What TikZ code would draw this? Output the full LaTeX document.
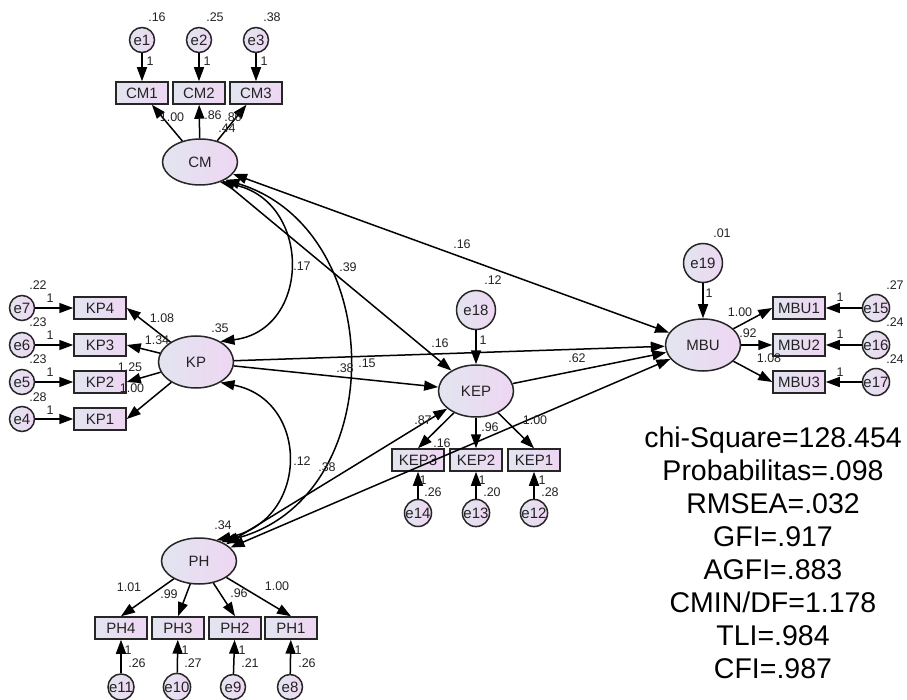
\documentclass[tikz,border=0pt]{standalone}
\usepackage{fontspec}
\setmainfont{Liberation Sans}
\usetikzlibrary{arrows.meta, shapes.geometric}

\definecolor{nodeL}{RGB}{226,229,240}
\definecolor{nodeR}{RGB}{238,214,242}
\definecolor{txt}{RGB}{35,35,35}

\tikzset{
  latent/.style={ellipse, draw=black!85, line width=1.5pt, left color=nodeL, right color=nodeR,
    minimum width=75pt, minimum height=52pt, inner sep=0pt, font=\fontsize{15}{16}\selectfont, text=txt},
  indic/.style={rectangle, draw=black!85, line width=1.5pt, left color=nodeL, right color=nodeR,
    minimum width=52pt, minimum height=22pt, inner sep=0pt, font=\fontsize{15}{16}\selectfont, text=txt},
  errc/.style={circle, draw=black!85, line width=1.5pt, left color=nodeL, right color=nodeR,
    minimum size=25pt, inner sep=0pt, font=\fontsize{15}{16}\selectfont, text=txt},
  errbig/.style={errc, minimum size=39pt},
  est/.style={font=\fontsize{12.5}{13}\selectfont, text=txt, inner sep=0pt},
  reg/.style={line width=1.5pt, -{Triangle[length=14pt,width=10pt]}},
  covar/.style={line width=1.5pt, {Triangle[length=14pt,width=10pt]}-{Triangle[length=14pt,width=10pt]}},
}

\begin{document}
\begin{tikzpicture}[x=1pt,y=-1pt]
\useasboundingbox (0,0) rectangle (907,700);

% CM
\node[errc] (e1) at (142,40) {e1};
\node[errc] (e2) at (199,40) {e2};
\node[errc] (e3) at (256,40) {e3};
\node[indic] (CM1) at (142,93) {CM1};
\node[indic] (CM2) at (199,93) {CM2};
\node[indic] (CM3) at (256,93) {CM3};
\node[latent, minimum height=46pt] (CM) at (200,162) {CM};

% KP
\node[errc] (e7) at (22,308) {e7};
\node[errc] (e6) at (22,345) {e6};
\node[errc] (e5) at (22,382) {e5};
\node[errc] (e4) at (22,419) {e4};
\node[indic] (KP4) at (100,308) {KP4};
\node[indic] (KP3) at (100,345) {KP3};
\node[indic] (KP2) at (100,382) {KP2};
\node[indic] (KP1) at (100,419) {KP1};
\node[latent] (KP) at (196,362) {KP};

% PH
\node[latent, minimum height=46pt] (PH) at (199,561) {PH};
\node[indic] (PH4) at (121,628) {PH4};
\node[indic] (PH3) at (178,628) {PH3};
\node[indic] (PH2) at (235,628) {PH2};
\node[indic] (PH1) at (291,628) {PH1};
\node[errc] (e11) at (121,687) {e11};
\node[errc] (e10) at (177,687) {e10};
\node[errc] (e9) at (233,687) {e9};
\node[errc] (e8) at (290,687) {e8};

% KEP
\node[errbig] (e18) at (476,310) {e18};
\node[latent] (KEP) at (476,391) {KEP};
\node[indic] (KEP3) at (418,460) {KEP3};
\node[indic] (KEP2) at (476,460) {KEP2};
\node[indic] (KEP1) at (534,460) {KEP1};
\node[errc] (e14) at (418,513) {e14};
\node[errc] (e13) at (476,513) {e13};
\node[errc] (e12) at (534,513) {e12};

% MBU
\node[errbig] (e19) at (703,263) {e19};
\node[latent] (MBU) at (703,345) {MBU};
\node[indic] (MBU1) at (799,308) {MBU1};
\node[indic] (MBU2) at (799,345) {MBU2};
\node[indic] (MBU3) at (799,382) {MBU3};
\node[errc] (e15) at (876,308) {e15};
\node[errc] (e16) at (876,345) {e16};
\node[errc] (e17) at (876,382) {e17};

% measurement paths
\draw[reg] (e1) -- (CM1);
\draw[reg] (e2) -- (CM2);
\draw[reg] (e3) -- (CM3);
\draw[reg] (CM) -- (CM1);
\draw[reg] (CM) -- (CM2);
\draw[reg] (CM) -- (CM3);

\draw[reg] (e7) -- (KP4);
\draw[reg] (e6) -- (KP3);
\draw[reg] (e5) -- (KP2);
\draw[reg] (e4) -- (KP1);
\draw[reg] (KP) -- (KP4.east);
\draw[reg] (KP) -- (KP3.east);
\draw[reg] (KP) -- (KP2.east);
\draw[reg] (KP) -- (KP1.east);

\draw[reg] (PH) -- (PH4.north);
\draw[reg] (PH) -- (PH3.north);
\draw[reg] (PH) -- (PH2.north);
\draw[reg] (PH) -- (PH1.north);
\draw[reg] (e11) -- (PH4);
\draw[reg] (e10) -- (PH3);
\draw[reg] (e9) -- (PH2);
\draw[reg] (e8) -- (PH1);

\draw[reg] (e18) -- (KEP);
\draw[reg] (KEP) -- (KEP3.north);
\draw[reg] (KEP) -- (KEP2);
\draw[reg] (KEP) -- (KEP1.north);
\draw[reg] (e14) -- (KEP3);
\draw[reg] (e13) -- (KEP2);
\draw[reg] (e12) -- (KEP1);

\draw[reg] (e19) -- (MBU);
\draw[reg] (MBU) -- (MBU1.west);
\draw[reg] (MBU) -- (MBU2.west);
\draw[reg] (MBU) -- (MBU3.west);
\draw[reg] (e15) -- (MBU1);
\draw[reg] (e16) -- (MBU2);
\draw[reg] (e17) -- (MBU3);

% structural paths
\draw[covar] (CM) -- (MBU);
\draw[reg] (CM) -- (KEP);
\draw[reg] (KP) -- (MBU);
\draw[reg] (KP) -- (KEP);
\draw[reg] (KEP) -- (MBU);
\draw[covar] (PH) -- (KEP);
\draw[covar] (PH) -- (MBU);
\draw[covar] (CM.-45) .. controls (312,200) and (312,330) .. (KP.40);
\draw[covar] (CM.-35) .. controls (390,230) and (390,500) .. (PH.40);
\draw[covar] (KP.-40) .. controls (310,400) and (310,520) .. (PH.50);

% estimates
\node[est] (v1) at (157,17) {.16};
\node[est] (v2) at (215,17) {.25};
\node[est] (v3) at (272,17) {.38};
\node[est] (f1) at (150,61) {1};
\node[est] (f2) at (207,61) {1};
\node[est] (f3) at (264,61) {1};
\node[est] (l1) at (172,117) {1.00};
\node[est] (l2) at (213,115) {.86};
\node[est] (l3) at (233,117) {.86};
\node[est] (vcm) at (227,128) {.44};

\node[est] (v7) at (38,285) {.22};
\node[est] (v6) at (38,322) {.23};
\node[est] (v5) at (38,359) {.23};
\node[est] (v4) at (38,397) {.28};
\node[est] (f7) at (50,298) {1};
\node[est] (f6) at (50,335) {1};
\node[est] (f5) at (50,372) {1};
\node[est] (f4) at (50,410) {1};
\node[est] (l4) at (162,318) {1.08};
\node[est] (l5) at (157,340) {1.34};
\node[est] (l6) at (130,367) {1.25};
\node[est] (l7) at (132,388) {1.00};
\node[est] (vkp) at (220,328) {.35};

\node[est] (vph) at (223,525) {.34};
\node[est] (l8) at (129,587) {1.01};
\node[est] (l9) at (169,594) {.99};
\node[est] (l10) at (239,593) {.96};
\node[est] (l11) at (277,586) {1.00};
\node[est] (f11) at (128,650) {1};
\node[est] (f10) at (185,650) {1};
\node[est] (f9) at (242,650) {1};
\node[est] (f8) at (298,650) {1};
\node[est] (v11) at (137,663) {.26};
\node[est] (v10) at (193,663) {.27};
\node[est] (v9) at (250,663) {.21};
\node[est] (v8) at (307,663) {.26};

\node[est] (v18) at (493,280) {.12};
\node[est] (f18) at (483,340) {1};
\node[est] (l12) at (442,443) {.16};
\node[est] (l13) at (490,427) {.96};
\node[est] (l14) at (535,420) {1.00};
\node[est] (f14) at (423,480) {1};
\node[est] (f13) at (482,480) {1};
\node[est] (f12) at (542,480) {1};
\node[est] (v14) at (433,492) {.26};
\node[est] (v13) at (492,492) {.20};
\node[est] (v12) at (550,492) {.28};

\node[est] (v19) at (722,233) {.01};
\node[est] (f19) at (709,293) {1};
\node[est] (l15) at (740,312) {1.00};
\node[est] (l16) at (748,333) {.92};
\node[est] (l17) at (769,358) {1.08};
\node[est] (f15) at (840,297) {1};
\node[est] (f16) at (840,334) {1};
\node[est] (f17) at (840,372) {1};
\node[est] (v15) at (895,285) {.27};
\node[est] (v16) at (895,322) {.24};
\node[est] (v17) at (895,359) {.24};

\node[est] (s1) at (462,244) {.16};
\node[est] (s2) at (302,266) {.17};
\node[est] (s3) at (348,267) {.39};
\node[est] (s4) at (440,343) {.16};
\node[est] (s5) at (345,368) {.38};
\node[est] (s6) at (367,363) {.15};
\node[est] (s7) at (577,358) {.62};
\node[est] (s8) at (302,461) {.12};
\node[est] (s9) at (327,467) {.38};
\node[est] (s10) at (423,420) {.87};

% fit indices
\node[font=\fontsize{28.5}{33}\selectfont, align=center, inner sep=0pt] (fit) at (773,553)
  {chi-Square=128.454\\Probabilitas=.098\\RMSEA=.032\\GFI=.917\\AGFI=.883\\CMIN/DF=1.178\\TLI=.984\\CFI=.987};
\end{tikzpicture}
\end{document}
